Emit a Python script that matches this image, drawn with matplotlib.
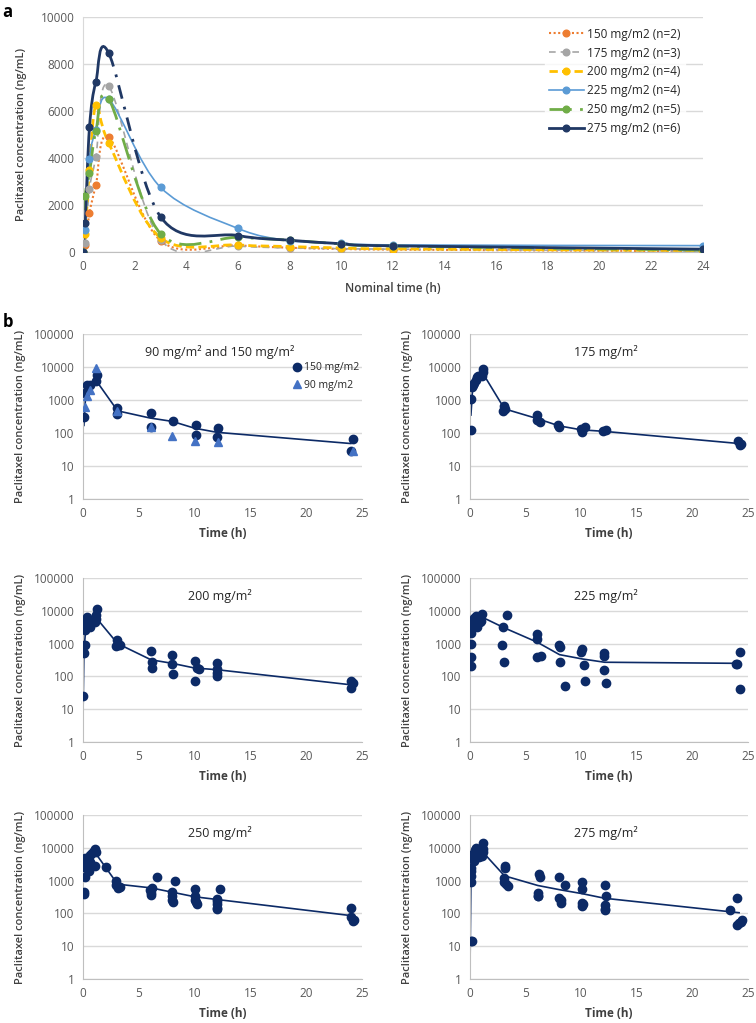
import matplotlib
matplotlib.use('Agg')
import matplotlib.pyplot as plt
from matplotlib.path import Path
from matplotlib.patches import PathPatch
from matplotlib.lines import Line2D

plt.rcParams['font.family'] = ['Open Sans', 'DejaVu Sans']

# ---- panel a: mean concentration by dose level (nominal time)
nominal_t = [0, 0.083, 0.25, 0.5, 1, 3, 6, 8, 10, 12, 24]
c150 = [0, 300, 1650, 2850, 4880, 480, 280, 180, 130, 100, 30]
c175 = [0, 380, 2680, 4040, 7050, 520, 250, 170, 140, 120, 40]
c200 = [0, 750, 3500, 6240, 4620, 600, 300, 230, 170, 130, 60]
c225 = [0, 930, 3960, 5200, 6500, 2750, 1000, 480, 380, 300, 270]
c250 = [0, 2380, 3360, 5150, 6500, 780, 620, 500, 340, 250, 80]
c275 = [0, 1230, 5300, 7250, 8450, 1500, 700, 500, 350, 260, 120]
labels_a = ['150 mg/m2 (n=2)', '175 mg/m2 (n=3)', '200 mg/m2 (n=4)',
            '225 mg/m2 (n=4)', '250 mg/m2 (n=5)', '275 mg/m2 (n=6)']

# ---- panel b: individual concentrations (log scale) and mean line
p150_t = [0.1, 0.2, 0.36, 0.6, 1.14, 1.26, 3.05, 3.05, 6.1, 6.1, 8.1, 10.1, 10.1, 12.1, 12.0, 24.2, 24.0]
p150_c = [316, 1620, 2760, 2760, 3700, 5900, 575, 385, 400, 148, 225, 170, 85, 142, 76, 66, 29]
p90_t = [0.2, 0.36, 0.6, 1.14, 3.05, 6.05, 8.0, 10.0, 12.1, 24.2]
p90_c = [600, 1300, 2000, 9300, 480, 150, 80, 58, 52, 28]
l150_t = [0.083, 0.25, 0.5, 1.15, 3.1, 6, 8, 10, 12, 24]
l150_c = [170, 1700, 2800, 4000, 470, 285, 225, 140, 105, 48]

p175_t = [0.1, 0.1, 0.15, 0.24, 0.4, 0.5, 0.6, 0.7, 1.05, 1.2, 1.15, 3.0, 3.1, 3.15, 6.05, 6.0, 6.3,
          7.9, 8.0, 9.97, 10.1, 10.3, 12.0, 12.2, 24.1, 24.4, 24.3]
p175_c = [126, 1040, 2500, 2900, 3300, 4000, 5000, 5200, 5500, 8500, 7000, 450, 680, 520, 360, 240, 210,
          180, 150, 130, 105, 150, 115, 120, 56, 47, 42]
l175_t = [0.083, 0.25, 0.5, 1.15, 3.1, 6.1, 8, 10, 12.1, 24.2]
l175_c = [350, 2700, 3500, 6500, 540, 270, 165, 125, 112, 48]

p200_t = [0, 0.05, 0.1, 0.2, 0.15, 0.15, 0.36, 0.54, 0.66, 1.05, 1.14, 1.2, 1.26, 3.05, 3.15, 3.3, 3.0,
          6.05, 6.15, 6.15, 8.0, 8.0, 8.1, 10.0, 10.2, 10.4, 10.0, 12.0, 12.0, 12.0, 12.0, 24.0, 24.2, 24.0]
p200_c = [25, 500, 900, 900, 2600, 4600, 6300, 4100, 3300, 4400, 5800, 7300, 11000, 1300, 900, 900, 850,
          580, 270, 185, 450, 240, 118, 300, 185, 168, 70, 250, 165, 130, 100, 72, 62, 44]
l200_t = [0, 0.083, 0.25, 0.5, 1.2, 3.1, 6.1, 8, 10, 12, 24.1]
l200_c = [6, 600, 3000, 4200, 6000, 1000, 320, 250, 180, 160, 55]

p225_t = [0.1, 0.1, 0.1, 0.1, 0.2, 0.25, 0.4, 0.5, 0.45, 0.6, 0.75, 0.9, 1.05, 1.0, 2.85, 3.0, 3.3, 3.1,
          6.05, 6.05, 6.05, 6.35, 8.0, 8.1, 8.1, 8.5, 10.0, 10.1, 10.25, 10.3, 12.05, 12.05, 12.05, 12.2,
          23.9, 24.0, 24.25, 24.25]
p225_c = [210, 380, 1000, 2150, 2900, 4900, 6100, 6800, 4000, 3300, 5300, 4500, 8000, 5000, 900, 3300, 7200, 270,
          1900, 1350, 380, 430, 900, 800, 270, 52, 550, 680, 220, 73, 500, 420, 160, 62,
          240, 235, 560, 42]
l225_t = [0.083, 0.25, 0.5, 1.05, 3.1, 6.05, 8.05, 10.1, 12.1, 24.1]
l225_c = [2000, 3500, 4500, 6500, 3000, 1100, 460, 340, 270, 250]

p250_t = [0.1, 0.1, 0.1, 0.2, 0.2, 0.3, 0.36, 0.45, 0.54, 0.6, 0.66, 0.84, 1.0, 1.1, 1.2, 1.05, 2.04,
          2.93, 3.0, 3.15, 3.3, 6.0, 6.05, 6.05, 6.2, 6.6, 8.0, 8.0, 8.0, 8.1, 8.2,
          10.0, 10.0, 10.0, 10.2, 10.1, 12.0, 12.0, 12.0, 12.0, 12.0, 12.3, 24.05, 24.05, 24.25, 24.2]
p250_c = [3500, 440, 380, 1300, 5000, 2400, 3000, 4400, 2000, 3800, 6200, 7000, 8000, 9000, 7400, 2700, 2600,
          980, 760, 600, 640, 520, 430, 360, 580, 1300, 460, 340, 260, 230, 980,
          560, 340, 250, 200, 220, 280, 240, 190, 150, 135, 570, 150, 78, 62, 58]
l250_t = [0.083, 0.25, 0.5, 1.1, 3.1, 6.1, 8.05, 10.05, 12.05, 24.1]
l250_c = [2500, 3800, 5000, 7000, 780, 600, 440, 320, 265, 85]

p275_t = [0.1, 0.18, 0.1, 0.1, 0.1, 0.1, 0.18, 0.24, 0.33, 0.4, 0.48, 0.54, 0.7, 0.78, 0.9, 1.08, 1.14, 1.14, 1.2,
          3.14, 3.14, 3.08, 3.08, 3.23, 3.38, 6.23, 6.32, 6.14, 6.14, 6.14, 7.96, 8.02, 8.17, 8.17, 8.56,
          10.03, 10.06, 10.06, 10.06, 10.2, 12.1, 12.2, 12.1, 12.1, 12.1, 23.4, 24.05, 24.0, 24.2, 24.5, 24.35]
p275_c = [14, 14, 930, 1400, 2000, 2500, 4900, 6500, 3900, 5400, 8300, 10200, 7400, 5100, 9100, 5700, 7300, 14500, 9100,
          2800, 2400, 1200, 880, 800, 690, 1600, 1270, 420, 330, 350, 1270, 290, 250, 210, 750,
          900, 560, 205, 170, 190, 760, 350, 180, 140, 125, 125, 295, 44, 51, 62, 55]
l275_t = [0, 0.083, 0.25, 0.5, 1.14, 3.1, 6.1, 8.1, 10.1, 12.1, 24.2]
l275_c = [2, 1000, 4000, 6000, 7500, 1400, 710, 525, 400, 290, 105]

navy = '#0c2a66'
grid_c = '#d9d9d9'
tick_c = '#595959'
lab_c = '#404040'


def smooth_path(x, y, i0, i1):
    # Excel-like smoothed line: cubic bezier through the data points
    n = len(x)
    verts = [(x[i0], y[i0])]
    codes = [Path.MOVETO]
    for i in range(i0, i1):
        xa, ya = (x[i - 1], y[i - 1]) if i > 0 else (x[i], y[i])
        xb, yb = (x[i + 2], y[i + 2]) if i + 2 < n else (x[i + 1], y[i + 1])
        verts.append((x[i] + (x[i + 1] - xa) / 6, y[i] + (y[i + 1] - ya) / 6))
        verts.append((x[i + 1] - (xb - x[i]) / 6, y[i + 1] - (yb - y[i]) / 6))
        verts.append((x[i + 1], y[i + 1]))
        codes += [Path.CURVE4] * 3
    return Path(verts, codes)


fig = plt.figure(figsize=(7.56, 10.23), dpi=100)

# ================= panel a
ax = fig.add_axes([0.1098, 0.7537, 0.8201, 0.2297])
series = [c150, c175, c200, c225, c250, c275]
colors = ['#ed7d31', '#a5a5a5', '#ffc000', '#5b9bd5', '#70ad47', '#203864']
styles = [(0, (1, 1.2)), (0, (4, 3)), (0, (3, 1.5)), '-', (0, (8, 3, 1, 3)), '-']
widths = [1.5, 1.2, 2.0, 1.2, 2.0, 2.0]
handles = []
for c, col, ls, lw, lab in zip(series, colors, styles, widths, labels_a):
    if c is c275:
        parts = [(0, 4, '-'), (4, 5, (0, (5, 3, 1, 3))), (5, len(c) - 1, '-')]
    else:
        parts = [(0, len(c) - 1, ls)]
    for i0, i1, st in parts:
        ax.add_patch(PathPatch(smooth_path(nominal_t, c, i0, i1), facecolor='none',
                               edgecolor=col, lw=lw, linestyle=st, capstyle='butt'))
    ax.plot(nominal_t, c, 'o', color=col, ms=4.8, zorder=3)
    handles.append(Line2D([], [], color=col, ls=ls, lw=lw, marker='o', ms=4.8))

ax.set_xlim(0, 24)
ax.set_ylim(0, 10000)
ax.set_xticks(range(0, 25, 2))
ax.set_yticks(range(0, 10001, 2000))
ax.grid(axis='y', color=grid_c, lw=1)
ax.set_axisbelow(True)
for s in ['top', 'right']:
    ax.spines[s].set_visible(False)
ax.spines['left'].set_color(grid_c)
ax.spines['bottom'].set_color('#bfbfbf')
ax.tick_params(length=0, labelsize=8.5, colors=tick_c, pad=6)
ax.set_xlabel('Nominal time (h)', fontsize=8.5, fontweight='semibold', color=lab_c, labelpad=6)
ax.set_ylabel('Paclitaxel concentration (ng/mL)', fontsize=8, fontweight='semibold', color=lab_c, labelpad=10)
leg = ax.legend(handles, labels_a, loc='upper left', bbox_to_anchor=(0.735, 1.0), fontsize=8.5,
                handlelength=2.9, handletextpad=0.3, labelspacing=0.5, borderpad=0.4,
                frameon=True, fancybox=False)
leg.get_frame().set_facecolor('white')
leg.get_frame().set_edgecolor('white')
for t in leg.get_texts():
    t.set_color('#262626')

fig.text(0.003, 0.997, 'a', fontsize=12, fontweight='bold', va='top')
fig.text(0.003, 0.694, 'b', fontsize=12, fontweight='bold', va='top')

# ================= panel b
panels = [
    ([0.1098, 0.5122, 0.369, 0.1613], '90 mg/m² and 150 mg/m²', p150_t, p150_c, l150_t, l150_c),
    ([0.6217, 0.5122, 0.3677, 0.1613], '175 mg/m²', p175_t, p175_c, l175_t, l175_c),
    ([0.1098, 0.2747, 0.369, 0.1603], '200 mg/m²', p200_t, p200_c, l200_t, l200_c),
    ([0.6217, 0.2747, 0.3677, 0.1603], '225 mg/m²', p225_t, p225_c, l225_t, l225_c),
    ([0.1098, 0.0430, 0.369, 0.1603], '250 mg/m²', p250_t, p250_c, l250_t, l250_c),
    ([0.6217, 0.0430, 0.3677, 0.1603], '275 mg/m²', p275_t, p275_c, l275_t, l275_c),
]
for k, (pos, title, pt, pc, lt, lc) in enumerate(panels):
    bx = fig.add_axes(pos)
    bx.set_yscale('log')
    bx.plot(lt, lc, color=navy, lw=1.2, zorder=2)
    bx.plot(pt, pc, 'o', color=navy, ms=6, zorder=3, label='150 mg/m2')
    if k == 0:
        bx.plot(p90_t, p90_c, '^', color='#4472c4', ms=6, zorder=3, label='90 mg/m2')
        bl = bx.legend(loc='upper left', bbox_to_anchor=(0.735, 0.86), frameon=False, fontsize=7.5,
                       handlelength=0.8, handletextpad=0.2, labelspacing=0.6, borderpad=0)
        for t in bl.get_texts():
            t.set_color('#262626')
    bx.set_xlim(0, 25)
    bx.set_ylim(1, 100000)
    bx.set_xticks([0, 5, 10, 15, 20, 25])
    bx.set_yticks([1, 10, 100, 1000, 10000, 100000])
    bx.set_yticklabels(['1', '10', '100', '1000', '10000', '100000'])
    bx.minorticks_off()
    bx.grid(axis='y', color=grid_c, lw=1)
    bx.set_axisbelow(True)
    for s in ['top', 'right']:
        bx.spines[s].set_visible(False)
    bx.spines['left'].set_color('#bfbfbf')
    bx.spines['bottom'].set_color('#bfbfbf')
    bx.tick_params(length=0, labelsize=8.5, colors=tick_c, pad=6)
    bx.set_xlabel('Time (h)', fontsize=8.5, fontweight='bold', color=lab_c, labelpad=5)
    bx.set_ylabel('Paclitaxel concentration (ng/mL)', fontsize=8, fontweight='semibold', color=lab_c,
                  labelpad=6)
    bx.text(0.49, 0.89, title, transform=bx.transAxes, ha='center', va='center', fontsize=9,
            color='#262626')

fig.savefig('out.png', dpi=100)
